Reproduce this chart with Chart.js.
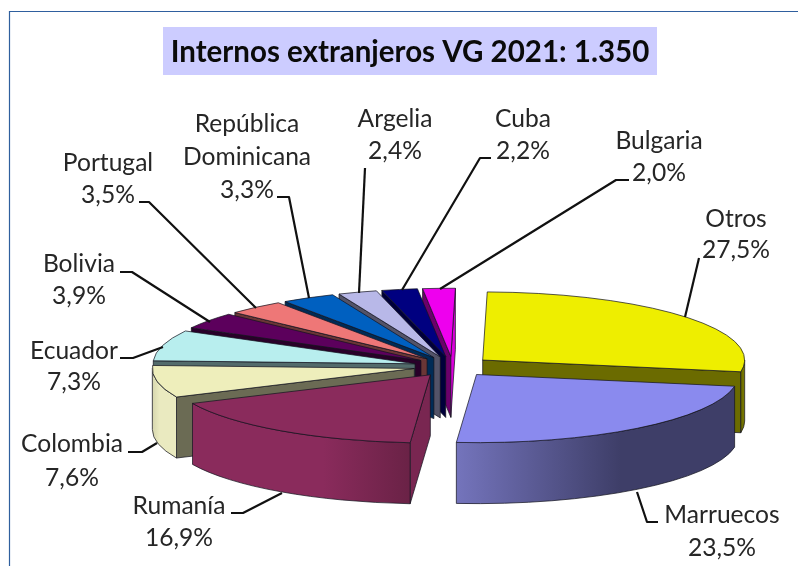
<!DOCTYPE html>
<html><head><meta charset="utf-8">
<style>html,body{margin:0;padding:0;background:#fff}canvas{display:block}</style>
<script src="https://cdn.jsdelivr.net/npm/chart.js@4"></script>
</head><body><canvas id="c" width="798" height="566"></canvas>
<script>
const categories = ["Otros","Marruecos","Rumanía","Colombia","Ecuador","Bolivia","Portugal","República Dominicana","Argelia","Cuba","Bulgaria"];
const shares = [27.5,23.5,16.9,7.6,7.3,3.9,3.5,3.3,2.4,2.2,2.0];
const sliceColors = ["#eeee00","#8a8aee","#8a2b5c","#eeeebb","#b8eeee","#5c005c","#ee7777","#0060c0","#b8b8e8","#000080","#ee00ee"];
const titleText = "Internos extranjeros VG 2021: 1.350";

/* per-slice wall gradient, left to right */
const wallStops = [
  [[0,"#6b6b00"],[1,"#7a7a00"]],
  [[0,"#7474bc"],[0.59,"#3e3e68"],[1,"#3e3e68"]],
  [[0,"#8a2b5c"],[0.6,"#8a2b5c"],[1,"#6a2246"]],
  [[0,"#d6d6ae"],[0.3,"#eaeac0"],[1,"#eaeac0"]]
];
/* label layout: text line centres and leader polylines */
const labelBoxes = [
  {lines:["Otros"],x:736,y:[219,250],lead:[[699,258],[685,317]]},
  {lines:["Marruecos"],x:722,y:[515,548],lead:[[658,522],[647,522],[637,492]]},
  {lines:["Rumanía"],x:179,y:[506,538],lead:[[231,513],[243,513],[282,493]]},
  {lines:["Colombia"],x:72,y:[444,478],lead:[[128,452],[142,452],[157,443]]},
  {lines:["Ecuador"],x:74,y:[351,382],lead:[[120,358],[133,358],[163,347]]},
  {lines:["Bolivia"],x:79,y:[264,296],lead:[[120,272],[132,272],[210,322]]},
  {lines:["Portugal"],x:108,y:[163,195],lead:[[139,202],[149,202],[256,308]]},
  {lines:["República","Dominicana"],x:247,y:[124,157,190],lead:[[277,197],[289,197],[309,298]]},
  {lines:["Argelia"],x:395,y:[119,151],lead:[[365,168],[359,293]]},
  {lines:["Cuba"],x:523,y:[119,151],lead:[[491,158],[480,158],[402,290]]},
  {lines:["Bulgaria"],x:659,y:[141,173],lead:[[629,180],[616,180],[440,289]]}
];
const PIE = {cx:452.6, cy:366.5, r:262, k:0.26, depth:61, explode:39};
const TEXT_FONT = '24.6px Lato, "Open Sans", sans-serif';

function shade(hex,f){
  const n=parseInt(hex.slice(1),16);
  return "rgb("+[(n>>16)&255,(n>>8)&255,n&255].map(v=>Math.round(v*f)).join(",")+")";
}
const EDGE="rgba(20,20,30,0.8)";

const pie3d = {
  id:"pie3d",
  beforeDraw(chart){
    const c=chart.ctx;
    c.save();
    c.fillStyle="#ffffff";c.fillRect(0,0,798,566);
    c.strokeStyle="#2f5f9e";c.lineWidth=1.2;
    c.beginPath();c.moveTo(9.5,566);c.lineTo(9.5,11.5);c.lineTo(798,11.5);c.stroke();
    c.fillStyle="#ccccff";c.fillRect(163,27,494,48);
    c.restore();
  },
  beforeDatasetsDraw(chart){
    const c=chart.ctx, meta=chart.getDatasetMeta(0), P=PIE;
    const order=meta.data.map((el,i)=>({el,i,mid:(el.startAngle+el.endAngle)/2}))
      .sort((a,b)=>Math.sin(a.mid)-Math.sin(b.mid));
    c.save();
    c.lineWidth=0.9;c.strokeStyle=EDGE;c.lineJoin="round";
    for(const s of order){
      const el=s.el, a0=el.startAngle, a1=el.endAngle;
      const ax=P.cx+P.explode*Math.cos(s.mid), ay=P.cy+P.k*P.explode*Math.sin(s.mid);
      const pt=a=>[ax+P.r*Math.cos(a), ay+P.k*P.r*Math.sin(a)];
      const face=(a,f)=>{
        const q=pt(a);
        c.beginPath();c.moveTo(ax,ay);c.lineTo(q[0],q[1]);c.lineTo(q[0],q[1]+P.depth);c.lineTo(ax,ay+P.depth);c.closePath();
        c.fillStyle=shade(sliceColors[s.i],f);c.fill();c.stroke();
      };
      /* cut faces turned to the viewer */
      if(Math.cos(a0)<0){ face(a0,Math.sin(a0)>0.8?0.88:0.45); }
      if(Math.cos(a1)>0){ face(a1,-Math.sin(a1)>0.8?0.92:0.45); }
      /* outer wall, front half only */
      const w0=Math.max(a0,0), w1=Math.min(a1,Math.PI);
      if(w1>w0){
        c.beginPath();
        c.ellipse(ax,ay,P.r,P.r*P.k,0,w0,w1);
        c.ellipse(ax,ay+P.depth,P.r,P.r*P.k,0,w1,w0,true);
        c.closePath();
        const g=c.createLinearGradient(pt(w1)[0],0,pt(w0)[0],0);
        (wallStops[s.i]||[[0,shade(sliceColors[s.i],0.6)],[1,shade(sliceColors[s.i],0.6)]]).forEach(t=>g.addColorStop(t[0],t[1]));
        c.fillStyle=g;c.fill();c.stroke();
      }
      /* top face: the library's own arc, squashed and moved outward */
      c.save();
      c.translate(P.cx-el.x,P.cy);
      c.scale(1,P.k);
      c.translate(P.explode*Math.cos(s.mid),P.explode*Math.sin(s.mid)-el.y);
      el.draw(c);
      c.restore();
      c.beginPath();c.moveTo(ax,ay);c.ellipse(ax,ay,P.r,P.r*P.k,0,a0,a1);c.closePath();c.stroke();
    }
    c.restore();
    return false;
  },
  afterDraw(chart){
    const c=chart.ctx;
    c.save();
    c.strokeStyle="#111";c.lineWidth=2.2;c.lineJoin="round";
    labelBoxes.forEach(b=>{
      c.beginPath();b.lead.forEach((p,j)=>j?c.lineTo(p[0],p[1]):c.moveTo(p[0],p[1]));c.stroke();
    });
    c.fillStyle="#262626";c.font=TEXT_FONT;c.textAlign="center";c.textBaseline="middle";
    labelBoxes.forEach((b,i)=>{
      b.lines.forEach((t,j)=>c.fillText(t,b.x,b.y[j]));
      c.fillText(shares[i].toFixed(1).replace(".",",")+"%",b.x,b.y[b.y.length-1]);
    });
    c.restore();
  }
};

new Chart(document.getElementById("c"),{
  type:"pie",
  data:{labels:categories,datasets:[{data:shares,backgroundColor:sliceColors,borderWidth:0}]},
  plugins:[pie3d],
  options:{
    responsive:false,animation:false,events:[],
    rotation:1,radius:PIE.r,
    layout:{padding:{left:22,right:0,top:0,bottom:0}},
    plugins:{
      legend:{display:false},tooltip:{enabled:false},
      title:{display:true,text:titleText,color:"#0a0a0a",
        font:{family:'Lato, "Open Sans", sans-serif',size:29.5,weight:"bold"},
        padding:{top:35,bottom:0}}
    }
  }
});
</script></body></html>
